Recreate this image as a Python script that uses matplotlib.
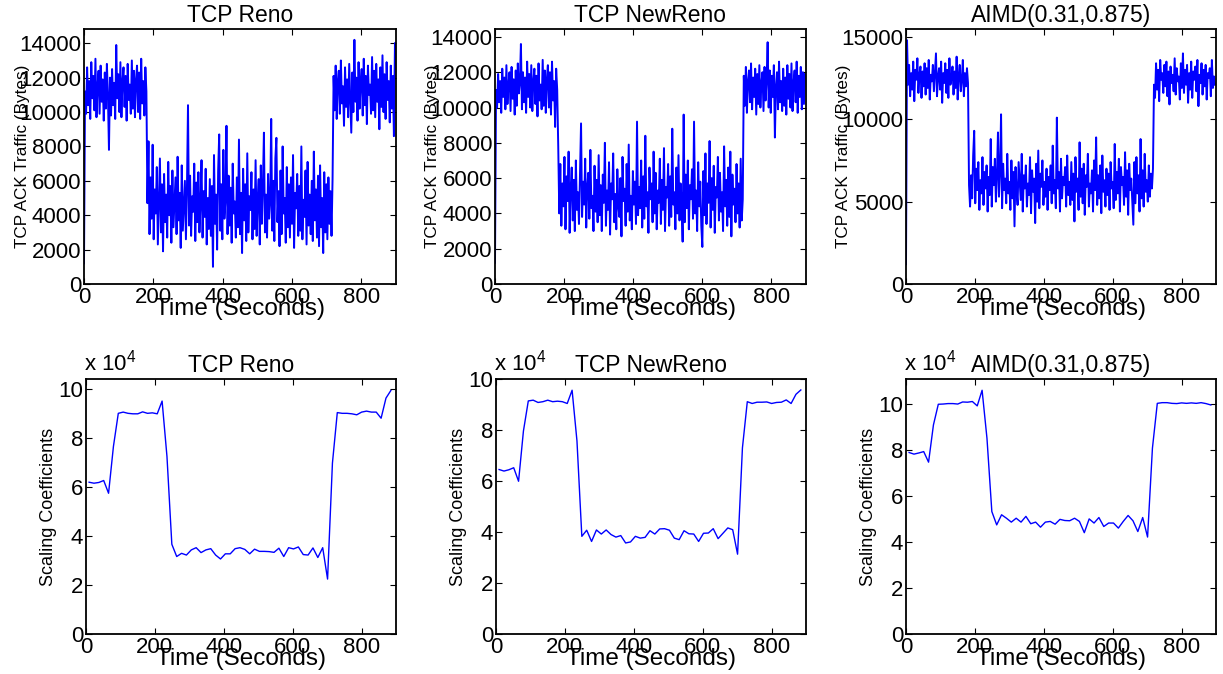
import numpy as np
import matplotlib
matplotlib.use('Agg')
import matplotlib.pyplot as plt

plt.rcParams['font.family'] = ['Liberation Sans', 'DejaVu Sans']
plt.rcParams['mathtext.fontset'] = 'custom'
plt.rcParams['mathtext.rm'] = 'Liberation Sans'
plt.rcParams['mathtext.it'] = 'Liberation Sans'

# ---------------- data ----------------
titles = ["TCP Reno", "TCP NewReno", "AIMD(0.31,0.875)"]

traffic_time = np.arange(0, 900, 3)
reno_traffic_h = [
    12, 112, 99, 126, 104, 118, 96, 129, 108, 121, 101, 131, 97, 115, 124, 99, 127, 106, 119, 95,
    123, 102, 128, 110, 78, 120, 98, 125, 104, 117, 96, 139, 108, 122, 100, 129, 97, 118, 126, 103,
    121, 95, 128, 107, 116, 99, 130, 102, 124, 97, 119, 127, 100, 123, 96, 131, 105, 118, 98, 126,
    112, 47, 83, 29, 62, 38, 81, 26, 55, 41, 68, 23, 49, 73, 30, 58, 19, 64, 36, 52,
    27, 71, 40, 57, 24, 66, 33, 48, 62, 29, 74, 37, 53, 21, 69, 31, 46, 60, 26, 56,
    104, 34, 63, 28, 51, 42, 70, 25, 59, 36, 65, 30, 47, 72, 27, 54, 39, 67, 23, 50,
    32, 61, 28, 57, 10, 75, 35, 52, 20, 66, 87, 31, 58, 26, 78, 38, 49, 92, 29, 63,
    34, 56, 24, 70, 41, 48, 27, 62, 33, 84, 29, 53, 18, 67, 37, 58, 25, 76, 30, 51,
    43, 65, 26, 55, 32, 72, 28, 49, 61, 23, 69, 35, 57, 88, 30, 52, 27, 64, 38, 47,
    96, 31, 60, 25, 73, 85, 36, 54, 22, 66, 29, 80, 41, 50, 24, 68, 33, 58, 27, 62,
    35, 75, 21, 53, 44, 64, 28, 57, 31, 80, 26, 49, 39, 66, 23, 71, 34, 52, 29, 60,
    25, 77, 37, 55, 27, 63, 22, 69, 33, 50, 18, 65, 30, 58, 26, 62, 35, 54, 28, 61,
    121, 101, 127, 96, 118, 124, 99, 130, 105, 115, 92, 126, 103, 119, 97, 128, 108, 88, 123, 100,
    142, 106, 120, 95, 129, 102, 117, 125, 98, 131, 104, 121, 93, 127, 110, 116, 99, 132, 101, 124,
    97, 128, 106, 119, 90, 126, 103, 133, 100, 122, 96, 129, 107, 118, 94, 127, 102, 121, 86, 140,
]
newreno_traffic_h = [
    12, 110, 100, 119, 103, 115, 97, 122, 106, 117, 99, 124, 102, 113, 120, 98, 123, 105, 116, 96,
    121, 101, 125, 108, 114, 136, 99, 120, 103, 117, 97, 126, 106, 119, 100, 124, 98, 115, 122, 102,
    118, 95, 125, 104, 113, 99, 127, 101, 121, 97, 116, 124, 100, 120, 96, 126, 104, 115, 89, 122,
    110, 78, 40, 68, 33, 57, 44, 72, 31, 61, 47, 75, 29, 54, 66, 36, 59, 30, 70, 42,
    52, 34, 64, 91, 38, 58, 45, 71, 32, 55, 63, 37, 76, 43, 50, 30, 67, 41, 59, 35,
    73, 39, 56, 30, 62, 46, 80, 33, 53, 42, 69, 28, 57, 48, 74, 35, 51, 31, 65, 44,
    38, 60, 27, 72, 47, 54, 33, 68, 41, 79, 36, 50, 31, 64, 45, 58, 34, 92, 39, 55,
    43, 70, 32, 61, 37, 84, 44, 52, 29, 66, 48, 57, 35, 75, 40, 63, 31, 53, 46, 71,
    34, 59, 42, 77, 30, 55, 49, 68, 33, 61, 38, 88, 45, 52, 31, 66, 40, 73, 36, 57,
    47, 24, 96, 35, 62, 43, 70, 31, 56, 48, 65, 37, 92, 40, 53, 30, 69, 44, 58, 33,
    21, 64, 39, 74, 34, 57, 46, 81, 32, 60, 42, 67, 29, 55, 49, 72, 36, 63, 41, 52,
    30, 78, 44, 59, 33, 66, 38, 75, 27, 62, 45, 54, 35, 68, 40, 57, 32, 71, 36, 48,
    118, 101, 123, 97, 115, 121, 103, 125, 99, 117, 106, 122, 96, 119, 102, 124, 100, 114, 120, 98,
    123, 104, 116, 137, 100, 121, 97, 118, 106, 124, 83, 112, 120, 99, 126, 103, 115, 98, 122, 101,
    117, 96, 124, 105, 119, 100, 125, 98, 114, 121, 103, 126, 97, 118, 106, 123, 99, 120, 102, 119,
]
aimd_traffic_h = [
    12, 148, 121, 133, 114, 128, 118, 135, 111, 130, 124, 137, 116, 127, 132, 113, 129, 120, 134, 115,
    131, 119, 136, 112, 127, 123, 133, 117, 129, 140, 114, 126, 131, 118, 135, 110, 128, 122, 134, 116,
    130, 113, 137, 121, 125, 132, 115, 129, 119, 138, 112, 127, 133, 117, 124, 136, 114, 128, 120, 131,
    122, 60, 47, 66, 52, 78, 93, 49, 70, 57, 74, 45, 63, 55, 77, 48, 68, 58, 72, 44,
    65, 54, 88, 47, 71, 60, 76, 50, 66, 92, 53, 69, 103, 46, 73, 57, 64, 49, 79, 55,
    62, 45, 75, 52, 68, 35, 71, 57, 48, 74, 63, 51, 79, 44, 66, 58, 72, 47, 61, 54,
    77, 43, 69, 56, 64, 37, 73, 50, 81, 46, 67, 59, 75, 48, 62, 53, 70, 45, 65, 57,
    72, 49, 84, 55, 63, 46, 101, 58, 68, 44, 76, 52, 65, 60, 71, 47, 78, 54, 62, 48,
    74, 51, 67, 38, 77, 56, 64, 45, 86, 53, 70, 49, 73, 42, 66, 59, 79, 47, 61, 55,
    69, 44, 75, 57, 89, 48, 66, 52, 72, 43, 78, 56, 63, 47, 70, 54, 67, 45, 74, 58,
    62, 46, 85, 51, 68, 55, 76, 44, 71, 60, 65, 48, 80, 53, 69, 42, 73, 57, 64, 50,
    36, 74, 49, 77, 55, 66, 44, 88, 52, 69, 47, 79, 56, 63, 50, 72, 53, 67, 58, 70,
    121, 113, 134, 118, 130, 111, 136, 124, 128, 116, 133, 120, 135, 114, 129, 109, 132, 122, 127, 117,
    137, 115, 131, 123, 126, 112, 134, 119, 140, 116, 130, 121, 133, 110, 128, 118, 135, 113, 129, 124,
    132, 117, 136, 108, 127, 122, 134, 115, 130, 120, 133, 112, 128, 125, 131, 114, 136, 119, 126, 121,
]

# scaling coefficients (units of 1e4)
coef_time = np.linspace(9, 885, 63)
reno_coef = [
    6.19, 6.15, 6.18, 6.26, 5.74, 7.65, 9.00, 9.05, 9.00, 8.98, 8.98, 9.06, 9.00, 9.02, 8.98, 9.50,
    7.24, 3.66, 3.16, 3.29, 3.22, 3.43, 3.52, 3.32, 3.43, 3.48, 3.22, 3.06, 3.27, 3.27, 3.48, 3.52,
    3.45, 3.27, 3.46, 3.37, 3.37, 3.36, 3.33, 3.50, 3.16, 3.52, 3.47, 3.55, 3.24, 3.22, 3.51, 3.12,
    3.52, 2.24, 6.97, 9.03, 9.00, 9.00, 8.98, 8.94, 9.05, 9.09, 9.05, 9.05, 8.80, 9.62, 9.93,
]
newreno_coef = [
    6.45, 6.39, 6.44, 6.52, 5.99, 7.96, 9.14, 9.17, 9.08, 9.11, 9.17, 9.11, 9.13, 9.11, 9.04, 9.56,
    7.57, 3.83, 4.07, 3.63, 4.08, 3.92, 4.08, 3.90, 3.80, 3.86, 3.57, 3.61, 3.83, 3.76, 3.79, 4.05,
    3.92, 4.12, 4.13, 4.07, 3.76, 3.70, 4.05, 3.93, 3.92, 3.63, 3.95, 3.96, 4.13, 3.74, 3.95, 4.16,
    4.09, 3.13, 7.30, 9.11, 9.04, 9.09, 9.09, 9.10, 9.04, 9.08, 9.09, 9.18, 9.04, 9.40, 9.57,
]
aimd_coef = [
    7.90, 7.83, 7.88, 7.94, 7.48, 9.10, 10.00, 10.01, 10.03, 10.03, 10.01, 10.10, 10.09, 10.12, 9.93, 10.61,
    8.52, 5.33, 4.75, 5.19, 5.04, 4.87, 5.04, 4.87, 5.12, 4.80, 4.87, 4.65, 4.87, 4.90, 4.78, 4.99,
    4.94, 4.93, 5.04, 4.90, 4.41, 5.01, 4.83, 5.07, 4.68, 4.83, 4.83, 4.61, 4.90, 5.16, 4.93, 4.46,
    5.07, 4.22, 8.09, 10.04, 10.07, 10.07, 10.04, 10.03, 10.06, 10.04, 10.06, 10.04, 10.07, 10.03, 9.97,
]

traffic_series = [reno_traffic_h, newreno_traffic_h, aimd_traffic_h]
coef_series = [reno_coef, newreno_coef, aimd_coef]
top_ylims = [14830, 14450, 15480]
top_yticks = [np.arange(0, 14001, 2000), np.arange(0, 14001, 2000), np.arange(0, 15001, 5000)]
bot_ylims = [10.4, 10.0, 11.1]
xticks = [0, 200, 400, 600, 800]

# ---------------- figure ----------------
W, H = 1223, 674
fig = plt.figure(figsize=(W / 100, H / 100), dpi=100)

def ax_at(l, t, r, b):
    return fig.add_axes([l / W, 1 - b / H, (r - l) / W, (b - t) / H])

top_boxes = [(84, 29, 396, 284), (495, 29, 806, 284), (906, 29, 1216, 284)]
bot_boxes = [(86, 379, 396, 634), (496, 379, 806, 634), (906, 379, 1216, 634)]
top_ylabel_x = [-0.173, -0.177, -0.177]
bot_ylabel_x = [-0.095, -0.095, -0.095]
narrow = ['Liberation Sans Narrow', 'Liberation Sans', 'DejaVu Sans']

def style(ax):
    for s in ax.spines.values():
        s.set_linewidth(1.3)
        s.set_color('black')
    ax.tick_params(direction='in', top=True, right=True, length=4, width=0.8,
                   labelsize=16, pad=2)
    ax.set_xlim(0, 900)
    ax.set_xticks(xticks)

for i in range(3):
    ax = ax_at(*top_boxes[i])
    ax.plot(traffic_time, np.array(traffic_series[i]) * 100, color=(0, 0, 1), lw=1.4)
    style(ax)
    ax.set_ylim(0, top_ylims[i])
    ax.set_yticks(top_yticks[i])
    ax.set_title(titles[i], fontsize=16.5, pad=5)
    ax.set_xlabel("Time (Seconds)", fontsize=17.5, labelpad=-7)
    ax.set_ylabel("TCP ACK Traffic (Bytes)", fontsize=12.3, family=narrow)
    ax.yaxis.set_label_coords(top_ylabel_x[i], 0.5)

    bx = ax_at(*bot_boxes[i])
    bx.plot(coef_time, coef_series[i], color=(0, 0, 1), lw=1.0)
    style(bx)
    bx.set_ylim(0, bot_ylims[i])
    bx.set_yticks(np.arange(0, 11, 2))
    bx.set_title(titles[i], fontsize=16.5, pad=5)
    bx.text(-0.005, 1.012, r"x 10$^4$", transform=bx.transAxes, fontsize=16,
            ha='left', va='bottom')
    bx.set_xlabel("Time (Seconds)", fontsize=17.5, labelpad=-7)
    bx.set_ylabel("Scaling Coefficients", fontsize=13, family=narrow)
    bx.yaxis.set_label_coords(bot_ylabel_x[i], 0.5)

fig.savefig("out.png", dpi=100)
